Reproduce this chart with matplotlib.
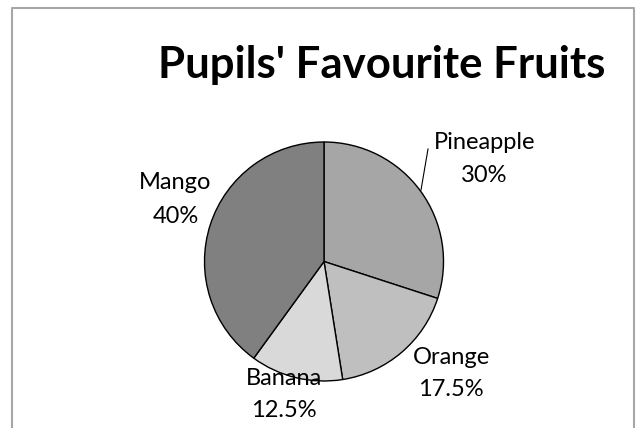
import matplotlib
matplotlib.use("Agg")
import matplotlib.pyplot as plt

# data
fruits = ["Pineapple", "Orange", "Banana", "Mango"]
shares = [30, 17.5, 12.5, 40]
colors = ["#a6a6a6", "#bfbfbf", "#d9d9d9", "#808080"]

W, H = 637, 428
fig = plt.figure(figsize=(W / 100, H / 100), dpi=100)
ax = fig.add_axes([0, 0, 1, 1])

fam = ["Lato", "DejaVu Sans"]

ax.pie(shares, colors=colors, startangle=90, counterclock=False,
       center=(324, H - 261.5), radius=119.5,
       wedgeprops=dict(edgecolor="black", linewidth=1.0))

# pie() resets the view, so fix it afterwards
ax.set_xlim(0, W)
ax.set_ylim(0, H)
ax.set_aspect("equal")
ax.axis("off")

# chart frame (bottom edge is cut off)
ax.plot([11.5, 11.5, 634, 634], [-5, H - 8, H - 8, -5], color="#a6a6a6", lw=1.5)

ax.text(382, H - 78, "Pupils' Favourite Fruits", ha="center", va="baseline",
        fontsize=31.5, fontweight="bold", family=fam)

# (x, baseline of name, baseline of percent) in pixels from top
label_pos = [(484.5, 149, 182), (451, 364, 396), (284, 385, 417), (175.5, 189, 223)]
for name, s, (x, y1, y2) in zip(fruits, shares, label_pos):
    ax.text(x, H - y1, name, ha="center", va="baseline", fontsize=17, family=fam)
    ax.text(x, H - y2, f"{s:g}%", ha="center", va="baseline", fontsize=17, family=fam)

# leader line for Pineapple
ax.plot([421, 428], [H - 190, H - 149], color="black", lw=0.8)

fig.savefig("out.png", dpi=100)
